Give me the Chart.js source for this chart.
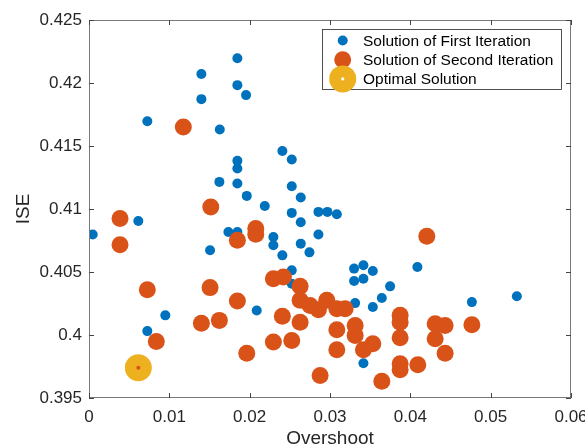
<!DOCTYPE html>
<html>
<head>
<meta charset="utf-8">
<script src="https://cdn.jsdelivr.net/npm/chart.js@4/dist/chart.umd.min.js"></script>
<style>
  body { margin: 0; background: #fff; }
  canvas { display: block; }
</style>
</head>
<body>
<canvas id="chart" width="585" height="448"></canvas>
<script>
// data
var firstX = [0.00046, 0.00614, 0.00726, 0.00726, 0.0095, 0.01399, 0.01399, 0.01507, 0.01628, 0.01623,
  0.01847, 0.01847, 0.01955, 0.01847, 0.01847, 0.01847, 0.01964, 0.02188, 0.01735, 0.01847,
  0.02088, 0.02295, 0.02295, 0.02407, 0.02524, 0.02524, 0.02636, 0.02524, 0.02636, 0.02407,
  0.02636, 0.02744, 0.02856, 0.02968, 0.03085, 0.02856, 0.02524, 0.02524, 0.033, 0.03416,
  0.03533, 0.033, 0.03416, 0.03748, 0.03645, 0.03533, 0.03313, 0.03416, 0.04088, 0.04766, 0.05326];
var firstY = [0.40797, 0.40905, 0.41697, 0.40031, 0.40156, 0.42071, 0.41872, 0.40672, 0.41631, 0.41215,
  0.42196, 0.41983, 0.41904, 0.41382, 0.41321, 0.41202, 0.41104, 0.41024, 0.40818, 0.40818,
  0.40195, 0.40778, 0.40712, 0.41461, 0.41393, 0.41181, 0.41091, 0.40969, 0.40895, 0.40632,
  0.40725, 0.40656, 0.40977, 0.40977, 0.40958, 0.40797, 0.40513, 0.40407, 0.40527, 0.40553,
  0.40508, 0.40428, 0.40447, 0.40386, 0.40293, 0.40222, 0.40253, 0.39776, 0.40539, 0.40261, 0.40307];

var secondX = [0.00386, 0.00386, 0.00726, 0.00838, 0.01174, 0.01516, 0.01507, 0.01399, 0.01623, 0.01847,
  0.01847, 0.01964, 0.02076, 0.02076, 0.02295, 0.0242, 0.02407, 0.02295, 0.02524, 0.02628,
  0.02628, 0.02628, 0.02752, 0.02856, 0.0296, 0.03085, 0.03188, 0.02877, 0.03085, 0.03085,
  0.03313, 0.03313, 0.03416, 0.03533, 0.03645, 0.03873, 0.03873, 0.03873, 0.03873, 0.03873,
  0.04093, 0.04205, 0.04309, 0.04433, 0.04309, 0.04433, 0.04766];
var secondY = [0.40924, 0.40717, 0.4036, 0.39949, 0.4165, 0.41016, 0.40376, 0.40094, 0.40116, 0.40752,
  0.40269, 0.39856, 0.40845, 0.40799, 0.40447, 0.4046, 0.40148, 0.39944, 0.39957, 0.40386,
  0.40275, 0.40102, 0.40235, 0.40201, 0.40275, 0.40209, 0.40209, 0.39679, 0.40042, 0.39883,
  0.40076, 0.39997, 0.39883, 0.39931, 0.39633, 0.40156, 0.40102, 0.39978, 0.39772, 0.39724,
  0.39764, 0.40783, 0.4009, 0.40076, 0.3997, 0.39856, 0.40082];

var optimalX = [0.00614];
var optimalY = [0.3974];

var xTicks = [0, 0.01, 0.02, 0.03, 0.04, 0.05, 0.06];
var yTicks = [0.395, 0.4, 0.405, 0.41, 0.415, 0.42, 0.425];

function pts(xs, ys) {
  return xs.map(function(x, i) { return { x: x, y: ys[i] }; });
}
function fmt(v) { return String(+v.toFixed(3)); }

var FONT = 'Liberation Sans, Arial, Helvetica, sans-serif';
var TXT = '#262626';

// box + inward ticks, MATLAB style
var framePlugin = {
  id: 'frame',
  afterDraw: function(chart) {
    var ctx = chart.ctx, a = chart.chartArea;
    var xs = chart.scales.x, ys = chart.scales.y;
    ctx.save();
    ctx.strokeStyle = '#7a7a7a';
    ctx.lineWidth = 1;
    ctx.strokeRect(a.left + 0.5, a.top + 0.5, a.right - a.left - 1, a.bottom - a.top - 1);
    ctx.strokeStyle = '#444';
    ctx.beginPath();
    xTicks.forEach(function(t) {
      var p = Math.round(xs.getPixelForValue(t)) + 0.5;
      ctx.moveTo(p, a.bottom); ctx.lineTo(p, a.bottom - 5);
      ctx.moveTo(p, a.top); ctx.lineTo(p, a.top + 5);
    });
    yTicks.forEach(function(t) {
      var p = Math.round(ys.getPixelForValue(t)) + 0.5;
      ctx.moveTo(a.left, p); ctx.lineTo(a.left + 5, p);
      ctx.moveTo(a.right, p); ctx.lineTo(a.right - 5, p);
    });
    ctx.stroke();
    ctx.restore();
  }
};

// legend box inside the axes, top right
var legendPlugin = {
  id: 'boxLegend',
  afterDraw: function(chart) {
    var ctx = chart.ctx;
    var sets = chart.data.datasets.slice(0, 3);
    var bx = 322.5, by = 29.5, bw = 239, bh = 60;
    ctx.save();
    ctx.fillStyle = '#fff';
    ctx.fillRect(bx, by, bw, bh);
    ctx.strokeStyle = '#262626';
    ctx.lineWidth = 0.8;
    ctx.strokeRect(bx, by, bw, bh);
    ctx.font = '15.5px ' + FONT;
    ctx.textBaseline = 'middle';
    sets.forEach(function(ds, i) {
      var cy = 40.5 + i * 19.2;
      ctx.fillStyle = ds.backgroundColor;
      ctx.beginPath();
      ctx.arc(342.7, cy, ds.pointRadius, 0, Math.PI * 2);
      ctx.fill();
      if (i === 2) {
        ctx.fillStyle = '#fff';
        ctx.beginPath();
        ctx.arc(342.7, cy, 1.6, 0, Math.PI * 2);
        ctx.fill();
      }
      ctx.fillStyle = '#000';
      ctx.fillText(ds.label, 363, cy + 1);
    });
    ctx.restore();
  }
};

new Chart(document.getElementById('chart'), {
  type: 'scatter',
  data: {
    datasets: [{
      label: 'Solution of First Iteration',
      data: pts(firstX, firstY),
      backgroundColor: '#0072BD',
      borderWidth: 0,
      pointRadius: 5,
      order: 3
    }, {
      label: 'Solution of Second Iteration',
      data: pts(secondX, secondY),
      backgroundColor: '#D95319',
      borderWidth: 0,
      pointRadius: 8.5,
      order: 2
    }, {
      label: 'Optimal Solution',
      data: pts(optimalX, optimalY),
      backgroundColor: '#EDB120',
      borderWidth: 0,
      pointRadius: 13.5,
      order: 1
    }, {
      label: 'optimal centre',
      data: pts(optimalX, optimalY),
      backgroundColor: '#D95319',
      borderWidth: 0,
      pointRadius: 2,
      order: 0
    }]
  },
  options: {
    responsive: false,
    animation: false,
    events: [],
    layout: { padding: { top: 20, right: 14, left: 0, bottom: 0 } },
    plugins: {
      legend: { display: false },
      tooltip: { enabled: false }
    },
    scales: {
      x: {
        type: 'linear',
        min: 0, max: 0.06,
        afterBuildTicks: function(s) { s.ticks = xTicks.map(function(v) { return { value: v }; }); },
        afterFit: function(s) { s.height = 50; s.paddingLeft = 0; s.paddingRight = 0; },
        grid: { display: false, drawTicks: false },
        border: { display: false },
        ticks: {
          callback: fmt,
          maxRotation: 0,
          autoSkip: false,
          padding: 9,
          color: TXT,
          font: { family: FONT, size: 17 }
        },
        title: {
          display: true,
          text: 'Overshoot',
          color: TXT,
          padding: 0,
          font: { family: FONT, size: 19, lineHeight: 1 }
        }
      },
      y: {
        type: 'linear',
        min: 0.395, max: 0.425,
        afterBuildTicks: function(s) { s.ticks = yTicks.map(function(v) { return { value: v }; }); },
        afterFit: function(s) { s.width = 89; s.paddingTop = 0; s.paddingBottom = 0; },
        grid: { display: false, drawTicks: false },
        border: { display: false },
        ticks: {
          callback: fmt,
          autoSkip: false,
          padding: 7,
          color: TXT,
          font: { family: FONT, size: 17 }
        },
        title: {
          display: true,
          text: 'ISE',
          color: TXT,
          padding: { top: 14.5, bottom: 0 },
          font: { family: FONT, size: 19, lineHeight: 1 }
        }
      }
    }
  },
  plugins: [framePlugin, legendPlugin]
});
</script>
</body>
</html>
